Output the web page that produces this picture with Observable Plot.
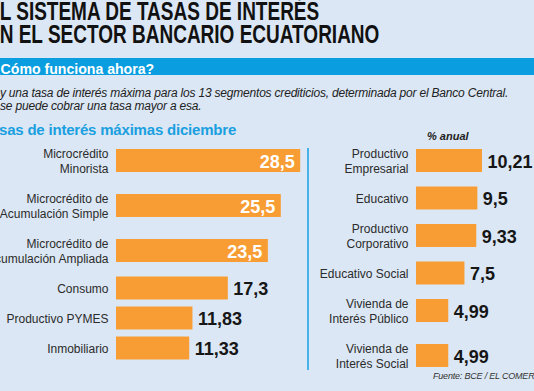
<!DOCTYPE html>
<html>
<head>
<meta charset="utf-8">
<script src="https://cdn.jsdelivr.net/npm/d3@7"></script>
<script src="https://cdn.jsdelivr.net/npm/@observablehq/plot@0.6"></script>
<style>
  html, body { margin: 0; padding: 0; background: #dbe7f4; overflow: hidden; }
  #root { position: relative; width: 534px; height: 391px; overflow: hidden; background: #dbe7f4;
          font-family: "Liberation Sans", Arial, sans-serif; }
  .abs { position: absolute; white-space: nowrap; line-height: 1; }
  .title { font-size: 25px; line-height: 23px; font-weight: bold; color: #111; transform: scaleX(0.76); transform-origin: 0 0; }
  .band { left: 0; top: 58px; width: 534px; height: 17px; background: #0a9ee0; }
  .q { font-size: 15px; font-weight: bold; color: #fff; transform: scaleX(0.94); transform-origin: 0 0; }
  .body { font-size: 12px; font-style: italic; color: #222; letter-spacing: -0.2px; }
  .sub { font-size: 15px; font-weight: bold; color: #1a9fe0; letter-spacing: -0.2px; }
  .unit { font-size: 11px; font-weight: bold; font-style: italic; color: #222; }
  .src { font-size: 9px; font-style: italic; color: #333; letter-spacing: -0.2px; }
  .divider { left: 307px; top: 148px; width: 2px; height: 222px; background: #45b3ea; }
  #left { position: absolute; left: 0; top: 140px; }
  #right { position: absolute; left: 308px; top: 140px; }
</style>
</head>
<body>
<div id="root">
  <div class="abs title" style="left:-13px; top:0px;">EL SISTEMA DE TASAS DE INTERÉS<br>EN EL SECTOR BANCARIO ECUATORIANO</div>
  <div class="abs band"></div>
  <div class="abs q" style="left:-8px; top:61px;">¿Cómo funciona ahora?</div>
  <div class="abs body" style="left:-15px; top:87px;">Hay una tasa de interés máxima para los 13 segmentos crediticios, determinada por el Banco Central.</div>
  <div class="abs body" style="left:-18px; top:100px;">No se puede cobrar una tasa mayor a esa.</div>
  <div class="abs sub" style="left:-17px; top:122px;">Tasas de interés máximas diciembre</div>
  <div class="abs unit" style="left:427px; top:131px;">% anual</div>
  <div class="abs divider"></div>
  <div id="left"></div>
  <div id="right"></div>
  <div class="abs src" style="left:433px; top:372px;">Fuente: BCE / EL COMERCIO</div>
</div>
<script>
// ---- Data ----
const leftLabels = [
  "Microcrédito\nMinorista",
  "Microcrédito de\nAcumulación Simple",
  "Microcrédito de\nAcumulación Ampliada",
  "Consumo",
  "Productivo PYMES",
  "Inmobiliario"
];
const leftValues = [28.5, 25.5, 23.5, 17.3, 11.83, 11.33];

const rightLabels = [
  "Productivo\nEmpresarial",
  "Educativo",
  "Productivo\nCorporativo",
  "Educativo Social",
  "Vivienda de\nInterés Público",
  "Vivienda de\nInterés Social"
];
const rightValues = [10.21, 9.5, 9.33, 7.5, 4.99, 4.99];

// ---- Styles ----
const ORANGE = "#f89d33";
const FONT = "Liberation Sans, Arial, sans-serif";
const fmt = d => String(d.value).replace(".", ",");

function panel(labels, values, {width, marginLeft, xmax}) {
  // row slots: rows with two-line labels take more room
  const w = labels.map(l => (l.split("\n").length > 1 ? 1.5 : 1));
  const pos = [];
  w.forEach((wi, i) => pos.push(i ? pos[i - 1] + (w[i - 1] + wi) / 2 : 0));
  const data = labels.map((label, i) => ({label, value: values[i], pos: pos[i]}));
  const inside = d => d.value > 20;
  const half = 0.383;
  return Plot.plot({
    width, height: 251,
    marginLeft, marginRight: 0, marginTop: 0, marginBottom: 0,
    x: {domain: [0, xmax], axis: null},
    y: {domain: [-0.683, 7.683], reverse: true, axis: null},
    style: {background: "transparent", overflow: "visible", fontFamily: FONT},
    marks: [
      Plot.rect(data, {x1: 0, x2: "value", y1: d => d.pos - half, y2: d => d.pos + half, fill: ORANGE}),
      Plot.text(data, {x: 0, y: "pos", text: "label", textAnchor: "end", dx: -8,
        fontSize: 12, lineHeight: 1.25, fill: "#2b2b2b", fontFamily: FONT}),
      Plot.text(data.filter(inside), {x: "value", y: "pos", text: fmt, textAnchor: "end", dx: -6, dy: 1,
        fill: "white", fontWeight: "bold", fontSize: 18, fontFamily: FONT}),
      Plot.text(data.filter(d => !inside(d)), {x: "value", y: "pos", text: fmt, textAnchor: "start", dx: 5, dy: 1,
        fill: "#161616", fontWeight: "bold", fontSize: 18, fontFamily: FONT})
    ]
  });
}

document.getElementById("left").append(panel(leftLabels, leftValues, {width: 306, marginLeft: 116, xmax: 29.4}));
document.getElementById("right").append(panel(rightLabels, rightValues, {width: 226, marginLeft: 108, xmax: 18.27}));
</script>
</body>
</html>
